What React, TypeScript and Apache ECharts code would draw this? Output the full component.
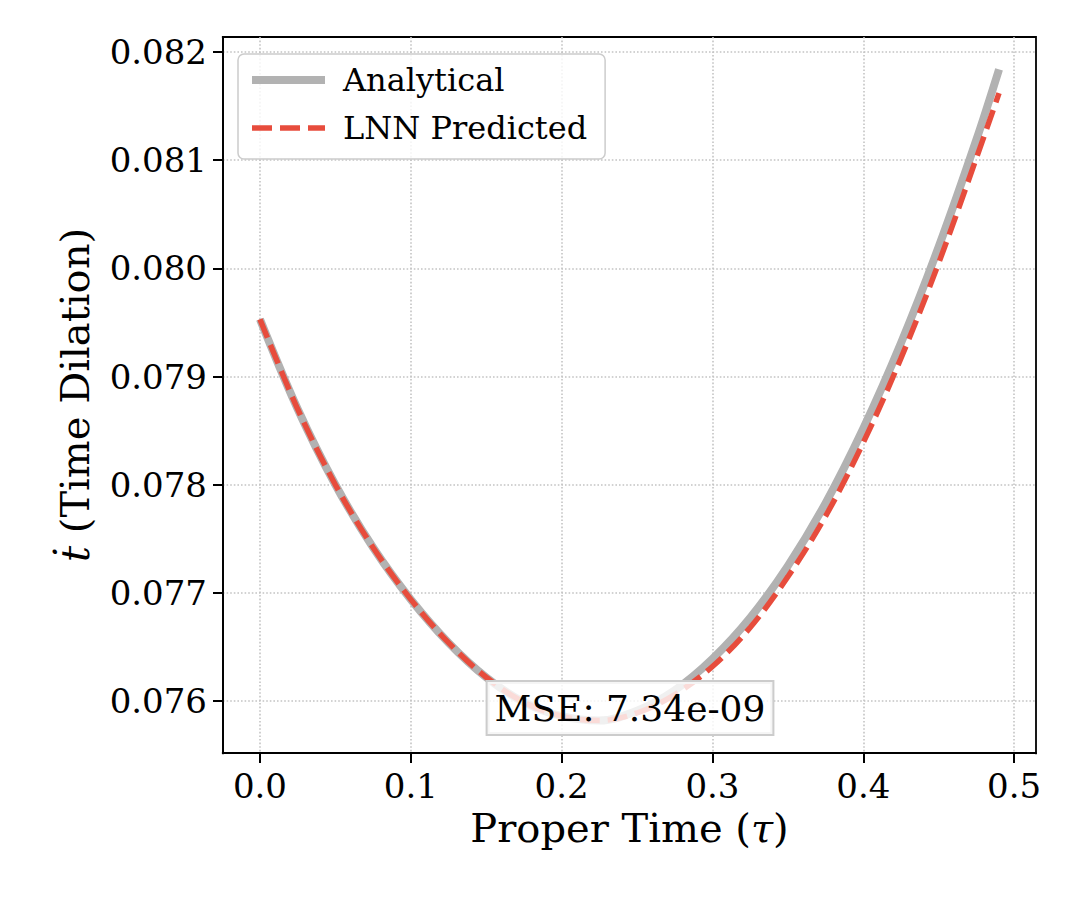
import { useEffect, useRef } from "react";
import * as echarts from "echarts";

// proper time samples
const tau = [
  0, 0.025, 0.05, 0.075, 0.1, 0.125, 0.15, 0.175, 0.2, 0.225, 0.25, 0.275,
  0.3, 0.325, 0.35, 0.375, 0.4, 0.425, 0.45, 0.475, 0.49,
];

// analytical t-dot
const analytical = [
  0.07953, 0.0787, 0.078, 0.07742, 0.07694, 0.07654, 0.07622, 0.07599,
  0.07586, 0.07582, 0.07591, 0.0761, 0.07639, 0.07677, 0.07725, 0.07783,
  0.07852, 0.07931, 0.0802, 0.08119, 0.08184,
];

// LNN prediction
const predicted = [
  0.07953, 0.0787, 0.078, 0.07742, 0.07694, 0.07654, 0.07622, 0.07599,
  0.07586, 0.07582, 0.07589, 0.07606, 0.07632, 0.07668, 0.07715, 0.07771,
  0.07839, 0.07917, 0.08005, 0.08102, 0.08162,
];

const xTicks = [0, 0.1, 0.2, 0.3, 0.4, 0.5];
const yTicks = [0.076, 0.077, 0.078, 0.079, 0.08, 0.081, 0.082];

const FONT = "DejaVu Serif";
const GRAY = "#b2b2b2";
const RED = "#e74c3c";

export default function App() {
  const chartRef = useRef<HTMLDivElement>(null);

  useEffect(() => {
    document.body.style.margin = "0";
    if (!chartRef.current) return;
    const chart = echarts.init(chartRef.current, null, { renderer: "svg" });

    const gridLine = {
      show: true,
      showMinLine: false,
      showMaxLine: false,
      lineStyle: { color: "#c4c4c4", width: 1.6, type: [1.6, 2] as any },
    };
    const spine = {
      show: true,
      onZero: false,
      lineStyle: { color: "#000000", width: 1.8 },
    };
    const tick = {
      show: true,
      inside: false,
      length: 10,
      lineStyle: { color: "#000000", width: 2 },
    };
    // white patches over the extra ticks echarts puts at the axis ends
    const patch = (x: number, y: number, w: number, h: number) => ({
      type: "rect",
      z: 100,
      silent: true,
      shape: { x, y, width: w, height: h },
      style: { fill: "#ffffff" },
    });

    chart.setOption({
      animation: false,
      backgroundColor: "#ffffff",
      textStyle: { fontFamily: FONT },
      grid: {
        left: 223,
        top: 37,
        width: 813,
        height: 716,
        show: true,
        borderColor: "#000000",
        borderWidth: 1.8,
        backgroundColor: "transparent",
      },
      legend: {
        orient: "vertical",
        left: 238,
        top: 54,
        padding: [10, 18, 15, 10],
        itemWidth: 73,
        itemHeight: 14,
        itemGap: 16,
        backgroundColor: "rgba(255,255,255,0.8)",
        borderColor: "#cccccc",
        borderWidth: 1.5,
        borderRadius: 6,
        textStyle: {
          fontFamily: FONT,
          fontSize: 32,
          color: "#000000",
          padding: [0, 0, 0, 13],
        },
        data: [
          {
            name: "Analytical",
            itemStyle: { opacity: 0 },
            lineStyle: { color: GRAY, width: 8, type: "solid" },
          },
          {
            name: "LNN Predicted",
            itemStyle: { opacity: 0 },
            lineStyle: { color: RED, width: 5.5, type: [20, 8] },
          },
        ],
      },
      xAxis: {
        type: "value",
        min: -0.0245,
        max: 0.5145,
        splitNumber: 5,
        name: "Proper Time ({i|τ})",
        nameLocation: "middle",
        nameGap: 52,
        nameTextStyle: {
          fontFamily: FONT,
          fontSize: 40,
          color: "#000000",
          rich: { i: { fontFamily: FONT, fontSize: 40, fontStyle: "italic" } },
        },
        axisLine: spine,
        axisTick: tick,
        axisLabel: {
          customValues: xTicks,
          fontFamily: FONT,
          fontSize: 34,
          color: "#000000",
          margin: 16,
          formatter: (v: number) => v.toFixed(1),
        },
        splitLine: gridLine,
      },
      yAxis: {
        type: "value",
        min: 0.07552,
        max: 0.082139,
        splitNumber: 6,
        name: "{i|ṫ} (Time Dilation)",
        nameLocation: "middle",
        nameGap: 128,
        nameTextStyle: {
          fontFamily: FONT,
          fontSize: 40,
          color: "#000000",
          rich: { i: { fontFamily: FONT, fontSize: 40, fontStyle: "italic" } },
        },
        axisLine: spine,
        axisTick: tick,
        axisLabel: {
          customValues: yTicks,
          fontFamily: FONT,
          fontSize: 34,
          color: "#000000",
          margin: 16,
          formatter: (v: number) => v.toFixed(3),
        },
        splitLine: gridLine,
      },
      series: [
        {
          name: "Analytical",
          type: "line",
          data: tau.map((t, i) => [t, analytical[i]]),
          smooth: 0.35,
          symbol: "none",
          lineStyle: { color: GRAY, width: 8 },
          itemStyle: { color: GRAY },
          z: 2,
        },
        {
          name: "LNN Predicted",
          type: "line",
          data: tau.map((t, i) => [t, predicted[i]]),
          smooth: 0.35,
          symbol: "none",
          lineStyle: { color: RED, width: 5.5, type: [20, 8] },
          itemStyle: { color: RED },
          z: 3,
        },
      ],
      graphic: [
        patch(215, 754.2, 16, 12),
        patch(1028, 754.2, 16, 12),
        patch(204, 745, 17.9, 15),
        patch(204, 29, 17.9, 15),
        {
          type: "text",
          x: 630,
          y: 708,
          z: 100,
          style: {
            text: "MSE: 7.34e-09",
            font: `36px "${FONT}"`,
            fill: "#000000",
            align: "center",
            verticalAlign: "middle",
            backgroundColor: "rgba(255,255,255,0.8)",
            borderColor: "#cccccc",
            borderWidth: 2,
            padding: [8, 7, 8, 7],
          },
        },
      ],
    });

    return () => {
      chart.dispose();
    };
  }, []);

  return <div ref={chartRef} style={{ width: 1080, height: 900 }} />;
}
